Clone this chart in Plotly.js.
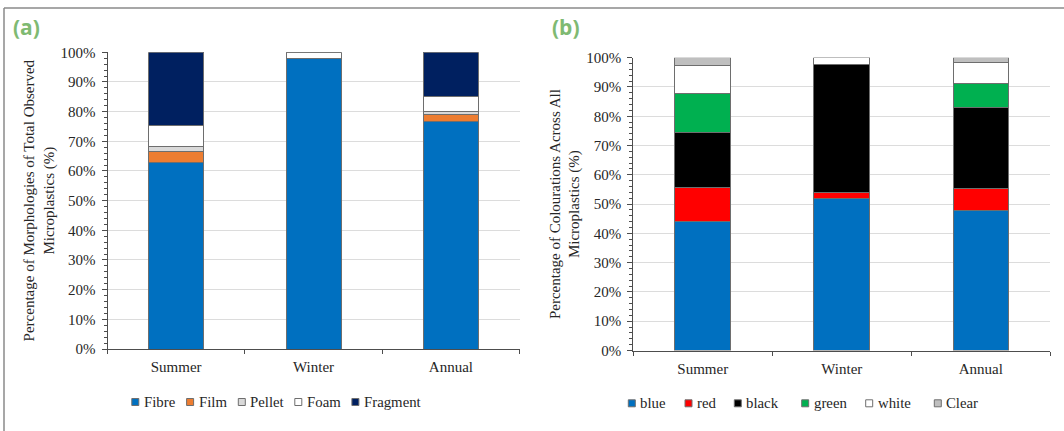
<!DOCTYPE html>
<html>
<head>
<meta charset="utf-8">
<script src="https://cdn.plot.ly/plotly-3.0.1.min.js"></script>
<style>html,body{margin:0;padding:0;background:#fff;}#chart{width:1064px;height:431px;}</style>
</head>
<body>
<div id="chart"></div>
<script>
// ---------- data ----------
const categories = ['Summer', 'Winter', 'Annual'];

// (a) morphologies, % of total observed microplastics
const morphNames = ['Fibre', 'Film', 'Pellet', 'Foam', 'Fragment'];
const fibre    = [62.9, 97.75, 76.7];
const film     = [3.8, 0, 2.2];
const pellet   = [1.6, 0, 1.0];
const foam     = [6.9, 2.25, 5.2];
const fragment = [24.8, 0, 14.9];

// (b) colourations, % across all microplastics
const colourNames = ['blue', 'red', 'black', 'green', 'white', 'Clear'];
const blue  = [44.0, 51.8, 47.9];
const red   = [11.6, 2.2, 7.5];
const black = [19.0, 43.6, 27.6];
const green = [13.3, 0, 8.1];
const white = [9.5, 2.4, 7.3];
const clear = [2.6, 0, 1.6];

const yTitleA = 'Percentage of Morphologies of Total Observed<br>Microplastics (%)';
const yTitleB = 'Percentage of Colourations Across All<br>Microplastics (%)';

// ---------- styling ----------
const W = 1064, H = 431;
const px = x => x / W;
const py = y => 1 - y / H;
const morphColors = ['#0070c0', '#ed7d31', '#d9d9d9', '#ffffff', '#002060'];
const colourColors = ['#0070c0', '#ff0000', '#000000', '#00b050', '#ffffff', '#bfbfbf'];
const outline = '#6e6e6e';
const serif = 'Liberation Serif, Times New Roman, serif';
const textColor = '#262626';

const morphSeries = [fibre, film, pellet, foam, fragment];
const colourSeries = [blue, red, black, green, white, clear];

const traces = [];
morphSeries.forEach((vals, i) => traces.push({
  type: 'bar', x: categories, y: vals, name: morphNames[i],
  xaxis: 'x', yaxis: 'y', showlegend: false,
  marker: {color: morphColors[i], line: {color: outline, width: 1}}
}));
colourSeries.forEach((vals, i) => traces.push({
  type: 'bar', x: categories, y: vals, name: colourNames[i],
  xaxis: 'x2', yaxis: 'y2', showlegend: false,
  marker: {color: colourColors[i], line: {color: outline, width: 1}}
}));

function yAxis(domain, anchor, title) {
  return {
    domain: domain, anchor: anchor, range: [0, 100], dtick: 10, ticksuffix: '%',
    showgrid: true, gridcolor: '#dcdcdc', gridwidth: 1, zeroline: false,
    showline: true, linecolor: '#4d4d4d', linewidth: 1,
    ticks: 'outside', ticklen: 5, tickcolor: '#4d4d4d', tickwidth: 1,
    minor: {dtick: 2, ticks: 'outside', ticklen: 3, tickcolor: '#4d4d4d', tickwidth: 1, showgrid: false},
    tickfont: {family: serif, size: 15, color: textColor},
    ticklabelstandoff: 3, fixedrange: true,
    title: {text: title, font: {family: serif, size: 15, color: textColor}, standoff: 2}
  };
}
function xAxis(domain, anchor) {
  return {
    domain: domain, anchor: anchor, type: 'category', range: [-0.5, 2.5],
    showgrid: false, zeroline: false, showline: true, linecolor: '#4d4d4d', linewidth: 1,
    ticks: 'outside', tickson: 'boundaries', ticklen: 4, tickcolor: '#4d4d4d', tickwidth: 1,
    tickfont: {family: serif, size: 15, color: textColor}, ticklabelstandoff: 4, fixedrange: true
  };
}

const annotations = [
  {xref: 'paper', yref: 'paper', x: px(26.5), y: py(27), xanchor: 'center', yanchor: 'middle',
   text: '<b>(a)</b>', showarrow: false, font: {family: 'Open Sans, sans-serif', size: 21, color: '#7fba72'}},
  {xref: 'paper', yref: 'paper', x: px(566), y: py(27.5), xanchor: 'center', yanchor: 'middle',
   text: '<b>(b)</b>', showarrow: false, font: {family: 'Open Sans, sans-serif', size: 21, color: '#7fba72'}}
];
const shapes = [
  {type: 'line', xref: 'paper', yref: 'paper', x0: px(4), x1: px(1064), y0: py(8), y1: py(8), line: {color: '#8a8a8a', width: 1.5}},
  {type: 'line', xref: 'paper', yref: 'paper', x0: px(4), x1: px(4), y0: py(8), y1: py(431), line: {color: '#8a8a8a', width: 1.5}}
];

// legend entries (drawn as shapes + text, laid out like the original)
const legendA = {left: [131.8, 186.6, 238.3, 294.8, 351.9], cy: 402};
const legendB = {left: [628.3, 685.0, 734.3, 801.7, 865.7, 934.3], cy: 403.3};
function addLegend(names, colors, layoutSpec) {
  const s = 7;
  names.forEach((name, i) => {
    const l = layoutSpec.left[i];
    shapes.push({type: 'rect', xref: 'paper', yref: 'paper',
      x0: px(l), x1: px(l + s), y0: py(layoutSpec.cy - s / 2), y1: py(layoutSpec.cy + s / 2),
      fillcolor: colors[i], line: {color: outline, width: 1}});
    annotations.push({xref: 'paper', yref: 'paper', x: px(l + s + 3), y: py(layoutSpec.cy),
      xanchor: 'left', yanchor: 'middle', text: name, showarrow: false,
      font: {family: serif, size: 14.8, color: textColor}});
  });
}
addLegend(morphNames, morphColors, legendA);
addLegend(colourNames, colourColors, legendB);

const layout = {
  width: W, height: H, margin: {l: 0, r: 0, t: 0, b: 0, pad: 0},
  paper_bgcolor: '#ffffff', plot_bgcolor: '#ffffff',
  barmode: 'stack', bargap: 0.6, showlegend: false,
  xaxis: xAxis([px(107.5), px(519.6)], 'y'),
  yaxis: yAxis([py(349), py(52.3)], 'x', yTitleA),
  xaxis2: xAxis([px(633.2), px(1050.4)], 'y2'),
  yaxis2: yAxis([py(350.5), py(57.7)], 'x2', yTitleB),
  annotations: annotations, shapes: shapes
};

Plotly.newPlot('chart', traces, layout, {staticPlot: true, displayModeBar: false});
</script>
</body>
</html>
